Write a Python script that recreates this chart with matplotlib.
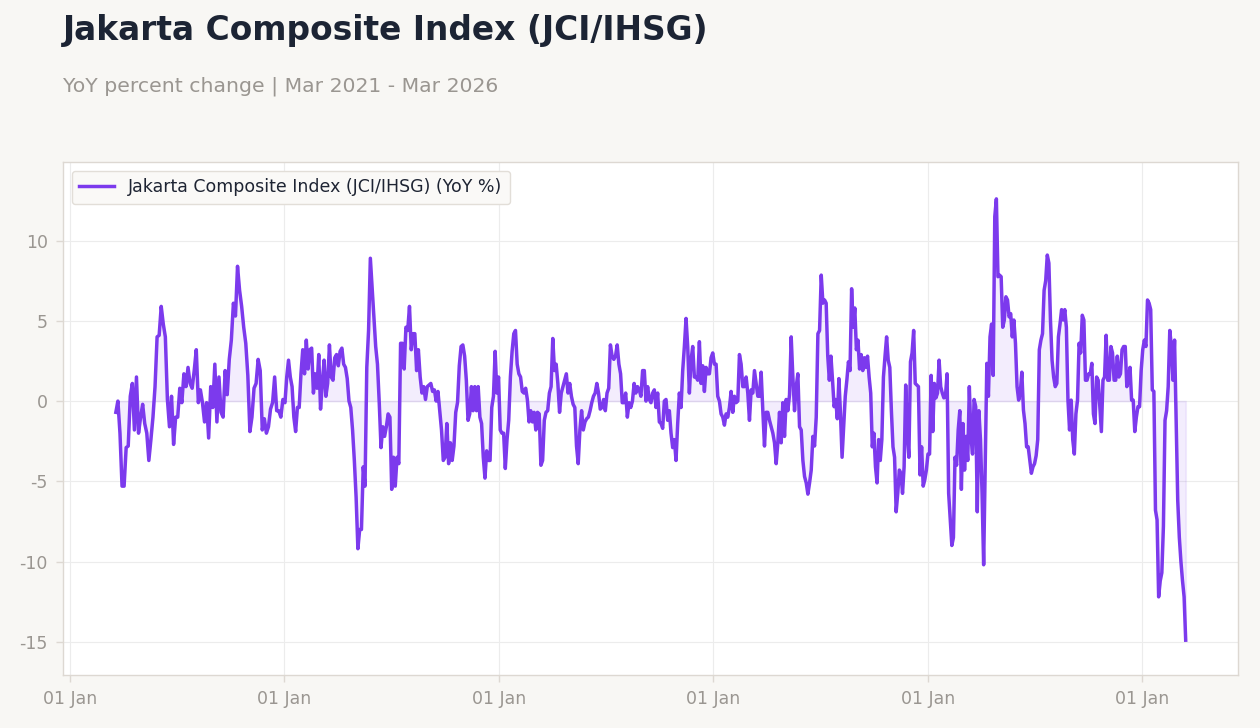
import numpy as np
import pandas as pd
import matplotlib
matplotlib.use("Agg")
import matplotlib.pyplot as plt
import matplotlib.dates as mdates

# ---- data (YoY %) ----
seg_bounds = ["2021-03-20", "2022-01-02", "2022-11-04", "2023-09-06",
              "2024-07-09", "2025-05-03", "2026-03-16"]

seg1 = [-0.7, 0.0, -2.0, -5.3, -5.3, -2.9, -2.8, 0.3, 1.1, -1.8, 1.5, -2.0, -1.0, -0.2,
        -1.4, -2.0, -3.7, -2.4, -1.0, 0.9, 4.0, 4.1, 5.9, 4.8, 4.0, 0.1, -1.6, 0.3,
        -2.7, -1.0, -1.0, 0.8, -0.1, 1.7, 0.9, 2.1, 1.1, 0.8, 1.9, 3.2, -0.1, 0.7,
        -0.1, -1.3, -0.1, -2.3, 0.9, -0.4, 2.3, -1.3, 1.5, -0.7, -1.0, 1.9, 0.4, 2.6,
        3.8, 6.1, 5.3, 8.4, 6.9, 5.9, 4.6, 3.6, 1.6, -1.9, -1.0, 0.8, 1.1, 2.6, 1.9,
        -1.8, -1.1, -2.0, -1.6, -0.5, -0.1, 1.5, -0.6, -0.6, -1.0, 0.1]

seg2 = [-0.1, 1.5, 2.55, 1.5, 0.9, -1.0, -1.9, -0.4, -0.4, 1.7, 3.2, 1.7, 3.8, 2.0,
        3.2, 3.3, 0.5, 1.7, 0.8, 2.9, -0.5, 1.1, 2.55, 0.3, 1.1, 3.5, 1.5, 1.3, 2.7,
        2.9, 2.2, 3.1, 3.3, 2.3, 2.1, 1.4, 0.0, -0.4, -1.8, -3.7, -6.0, -9.2, -8.0,
        -8.0, -4.1, -5.3, 2.1, 4.4, 8.9, 7.1, 5.3, 3.4, 2.3, -0.1, -2.9, -1.6, -2.2,
        -1.6, -0.8, -1.0, -5.5, -3.5, -5.3, -3.5, -3.9, 3.6, 3.6, 2.0, 4.6, 4.4, 5.9,
        3.2, 4.2, 4.2, 1.9, 3.2, 1.5, 0.5, 0.9, 0.1, 0.9, 1.0, 1.1, 0.6, 0.7, 0.0,
        0.6, -0.6, -1.8, -3.7, -3.5, -1.4, -3.9, -2.6, -3.7, -2.8, -0.7, -0.1, 2.2,
        3.4, 3.5]

seg3 = [2.8, 1.3, -1.2, -0.8, 0.9, -0.6, 0.9, -0.6, 0.9, -1.0, -1.4, -3.5, -4.8, -3.1,
        -3.7, -3.7, -0.4, 0.3, 3.1, 0.5, 1.5, -1.8, -2.0, -2.0, -4.2, -2.4, -1.2, 1.5,
        3.1, 4.2, 4.4, 2.3, 1.7, 1.5, 0.6, 0.5, 0.8, 0.1, -1.3, -0.6, -1.3, -0.7, -1.8,
        -0.7, -0.8, -4.0, -3.7, -1.2, -0.7, -0.6, 0.5, 0.9, 3.9, 1.9, 2.3, 1.1, -0.7,
        0.5, 0.9, 1.3, 1.7, 0.5, 1.1, 0.3, -0.2, -0.4, -2.8, -3.9, -1.8, -0.6, -1.8,
        -1.3, -1.1, -1.0, -0.6, -0.1, 0.3, 0.5, 1.1, 0.5, -0.5, -0.4, 0.1, -0.6, 0.5,
        0.8, 3.5, 2.8, 2.6, 2.8, 3.5, 2.3, 1.7, -0.1, -0.1, 0.5, -1.0, -0.1, -0.4, 0.0,
        1.1, 0.5, 0.9, 0.7, 0.3, 1.9]

seg4 = [1.9, 0.0, 0.9, 0.1, -0.1, 0.5, 0.7, -0.4, 0.5, -1.3, -1.4, -1.7, 0.0, 0.1,
        -1.2, -0.6, -2.0, -2.9, -2.4, -3.7, -1.4, 0.5, -0.4, 1.9, 3.4, 5.15, 3.4, 0.5,
        2.55, 3.4, 1.5, 1.5, 1.3, 3.7, 1.1, 2.2, 0.6, 2.1, 1.7, 1.7, 2.7, 3.0, 2.3, 2.3,
        0.3, 0.0, -0.8, -1.0, -1.5, -0.8, -1.0, -0.4, 0.6, -0.7, 0.3, -0.1, 0.0, 2.9,
        2.3, 0.9, 0.9, 1.5, 0.5, -1.2, 0.7, 0.5, 1.9, 1.1, 0.3, 0.3, 1.8, -0.6, -2.8,
        -0.7, -0.7, -1.2, -1.6, -2.0, -2.6, -3.9, -2.6, -0.7, -2.6, -0.1, -2.2, 0.1,
        -0.6, 0.4, 4.0, 1.5, -0.6, 0.9, 1.7, -1.6, -1.8, -3.7, -4.7, -5.1, -5.8, -5.1,
        -4.3, -2.2, -2.8, -1.0, 4.2, 4.4, 7.85, 6.1]

seg5 = [6.3, 6.1, 2.8, 1.3, 2.8, 1.3, -0.35, 0.1, -1.1, 1.4, -0.8, -3.5, -1.6, 0.3,
        1.3, 2.45, 1.9, 7.0, 4.6, 5.8, 3.2, 3.8, 2.0, 2.9, 1.9, 2.7, 2.1, 2.8, 1.5,
        0.5, -2.85, -2.0, -4.1, -5.1, -2.4, -3.7, -2.4, 1.5, 2.8, 4.0, 2.55, 2.1, -0.6,
        -2.85, -3.5, -6.9, -5.75, -4.3, -4.5, -5.75, -4.1, 1.0, -2.0, -3.5, 2.45, 3.0,
        4.4, 1.1, 1.0, 0.9, -4.6, -2.85, -5.3, -4.9, -4.3, -3.3, -3.3, 1.6, -1.9, 1.1,
        0.2, 0.5, 2.55, 0.9, 0.5, 0.2, 0.3, 1.7, -5.75, -7.4, -9.0, -8.5, -3.5, -4.0,
        -1.8, -0.6, -5.5, -1.4, -4.3, -2.2, -3.7, 0.9, -2.2, -3.3, 0.1, -0.35, -6.9,
        -0.6, -2.4, -5.75, -10.2, -4.1, 2.35, 0.3, 4.0, 4.8, 1.6, 11.5, 12.6, 7.75]

seg6 = [7.85, 7.75, 4.6, 5.05, 6.5, 6.3, 5.25, 5.45, 4.0, 5.05, 3.6, 0.9, 0.06, 0.5,
        1.8, -0.55, -1.4, -2.85, -2.85, -3.7, -4.5, -4.1, -3.9, -3.4, -2.4, 3.2, 3.8,
        4.2, 6.9, 7.5, 9.1, 8.6, 5.05, 2.55, 1.5, 0.9, 1.1, 4.0, 4.8, 5.7, 5.05, 5.7,
        4.6, 0.06, -1.8, 0.06, -2.4, -3.3, -0.8, 0.06, 3.6, 3.0, 5.35, 5.05, 1.3, 1.3,
        1.7, 1.7, 2.35, -0.8, -1.4, 1.5, 1.3, -0.35, -1.9, 1.3, 1.5, 4.1, 1.3, 1.3,
        3.4, 3.0, 1.3, 1.3, 2.8, 1.5, 1.7, 3.2, 3.4, 3.4, 0.9, 1.3, 2.1, 0.06, 0.06,
        -1.9, -1.0, -0.35, -0.35, 1.9, 3.2, 3.8, 3.4, 6.3, 6.1, 5.7, 0.7, 0.6, -6.8,
        -7.4, -12.2, -11.2, -10.7, -7.8, -1.2, -0.6, 0.9, 4.4, 3.4, 1.3, 3.8, -1.2,
        -6.2, -8.5, -10.0, -11.2, -12.2, -14.9]

segments = [seg1, seg2, seg3, seg4, seg5, seg6]

title = "Jakarta Composite Index (JCI/IHSG)"
subtitle = "YoY percent change | Mar 2021 - Mar 2026"
series_label = "Jakarta Composite Index (JCI/IHSG) (YoY %)"
y_ticks = [-15, -10, -5, 0, 5, 10]

# ---- build series ----
dates_parts, vals_parts = [], []
for i, seg in enumerate(segments):
    s, e = pd.Timestamp(seg_bounds[i]), pd.Timestamp(seg_bounds[i + 1])
    if i < len(segments) - 1:
        d = pd.date_range(s, e, periods=len(seg) + 1)[:-1]
    else:
        d = pd.date_range(s, e, periods=len(seg))
    dates_parts.append(d)
    vals_parts.append(np.array(seg, dtype=float))
dates = pd.DatetimeIndex(np.concatenate([d.values for d in dates_parts]))
values = np.concatenate(vals_parts)

# ---- style ----
plt.rcParams["font.family"] = ["DejaVu Sans"]
plt.rcParams["axes.unicode_minus"] = False

bg = "#f8f7f4"
purple = "#7c3aed"
grid_c = "#ececec"
tick_c = "#9a9691"
spine_c = "#ddd8d2"

fig = plt.figure(figsize=(12.6, 7.28), dpi=100, facecolor=bg)
ax = fig.add_axes([0.05, 0.0728, 0.9325, 0.7047])
ax.set_facecolor("white")

ax.fill_between(dates, values, 0, color=purple, alpha=0.09, linewidth=1.2,
                edgecolor=(0.49, 0.23, 0.93, 0.15), zorder=2)
ax.plot(dates, values, color=purple, linewidth=2.5, label=series_label, zorder=3,
        solid_joinstyle="round")

ax.set_xlim(pd.Timestamp("2020-12-20"), pd.Timestamp("2026-06-13"))
ax.set_ylim(-17.07, 14.9)
ax.set_yticks(y_ticks)
ax.xaxis.set_major_locator(mdates.YearLocator(month=1, day=1))
ax.xaxis.set_major_formatter(mdates.DateFormatter("%d %b"))

ax.grid(True, color=grid_c, linewidth=0.8, zorder=0)
ax.set_axisbelow(True)
for sp in ax.spines.values():
    sp.set_color(spine_c)
    sp.set_linewidth(1.0)
ax.tick_params(axis="both", colors=spine_c, labelcolor=tick_c, labelsize=12.5,
               length=5, width=1)
ax.tick_params(axis="x", pad=6)
ax.tick_params(axis="y", pad=6)

leg = ax.legend(loc="upper left", fontsize=12.5, frameon=True, fancybox=True,
                borderpad=0.45, handlelength=2.0, bbox_to_anchor=(0.0, 1.0),
                borderaxespad=0.5)
leg.get_frame().set_facecolor("#faf9f7")
leg.get_frame().set_edgecolor("#e2ded8")
leg.get_frame().set_alpha(1.0)
for t in leg.get_texts():
    t.set_color("#1e2433")

fig.text(0.05, 0.958, title, fontsize=23.7, fontweight="bold", color="#1c2434",
         ha="left", va="center")
fig.text(0.05, 0.882, subtitle, fontsize=14.7, color="#9a9691", ha="left",
         va="center")

fig.savefig("out.png", dpi=100, facecolor=bg)
